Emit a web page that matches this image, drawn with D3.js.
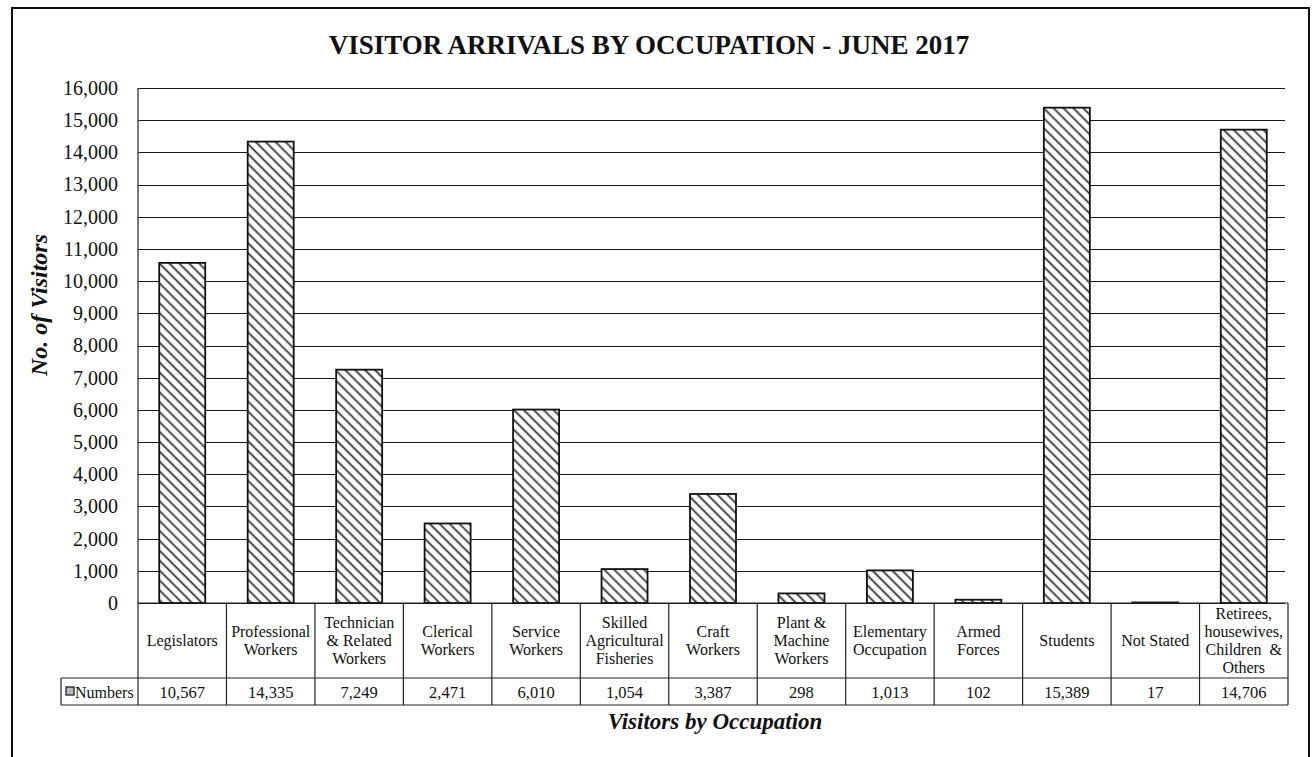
<!DOCTYPE html>
<html>
<head>
<meta charset="utf-8">
<script src="https://cdn.jsdelivr.net/npm/d3@7"></script>
<style>
  body { margin: 0; background: #fff; }
  svg text { font-family: "Liberation Serif", "Times New Roman", serif; fill: #111; }
</style>
</head>
<body>
<svg id="chart" width="1312" height="757"></svg>
<script>
// Dados do grafico
var categories = [
  ["Legislators"],
  ["Professional", "Workers"],
  ["Technician", "& Related", "Workers"],
  ["Clerical", "Workers"],
  ["Service", "Workers"],
  ["Skilled", "Agricultural", "Fisheries"],
  ["Craft", "Workers"],
  ["Plant &", "Machine", "Workers"],
  ["Elementary", "Occupation"],
  ["Armed", "Forces"],
  ["Students"],
  ["Not Stated"],
  ["Retirees,", "housewives,", "Children  &", "Others"]
];
var values = [10567, 14335, 7249, 2471, 6010, 1054, 3387, 298, 1013, 102, 15389, 17, 14706];
var yTicks = [0, 1000, 2000, 3000, 4000, 5000, 6000, 7000, 8000, 9000, 10000,
  11000, 12000, 13000, 14000, 15000, 16000];
var seriesName = "Numbers";
var title = "VISITOR ARRIVALS BY OCCUPATION - JUNE 2017";
var yTitle = "No. of Visitors";
var xTitle = "Visitors by Occupation";

var svg = d3.select("#chart");

// Area do grafico
var plotLeft = 138, plotRight = 1288, plotTop = 88, plotBottom = 603;
var rowLabel = 678, rowValue = 705, legendLeft = 61;

var x = d3.scaleBand()
  .domain(d3.range(categories.length))
  .range([plotLeft, plotRight])
  .paddingInner(0.48)
  .paddingOuter(0.24);

var y = d3.scaleLinear()
  .domain([0, 16000])
  .range([plotBottom, plotTop]);

// Padrao de hachura
var defs = svg.append("defs");
defs.append("pattern")
  .attr("id", "hatch")
  .attr("patternUnits", "userSpaceOnUse")
  .attr("width", 7)
  .attr("height", 7)
  .attr("patternTransform", "rotate(45)")
  .call(function (p) {
    p.append("rect").attr("width", 7).attr("height", 7).attr("fill", "#fff");
    p.append("line")
      .attr("x1", 0).attr("x2", 7).attr("y1", 3.5).attr("y2", 3.5)
      .attr("stroke", "#2a2a2a").attr("stroke-width", 1.7);
  });

// Moldura externa
svg.append("rect")
  .attr("x", 12).attr("y", 8)
  .attr("width", 1297).attr("height", 770)
  .attr("fill", "none")
  .attr("stroke", "#111")
  .attr("stroke-width", 2);

// Titulo
svg.append("text")
  .attr("x", 649).attr("y", 54)
  .attr("text-anchor", "middle")
  .attr("font-size", 27)
  .attr("font-weight", "bold")
  .text(title);

// Linhas de grade
svg.append("g")
  .selectAll("line")
  .data(yTicks)
  .enter().append("line")
  .attr("x1", plotLeft).attr("x2", plotRight - 3)
  .attr("y1", function (d) { return Math.round(y(d)) + 0.5; })
  .attr("y2", function (d) { return Math.round(y(d)) + 0.5; })
  .attr("stroke", "#1a1a1a")
  .attr("stroke-width", 1.2);

// Eixo Y
var yAxis = svg.append("g")
  .attr("transform", "translate(" + plotLeft + ",0)")
  .call(d3.axisLeft(y).tickValues(yTicks).tickFormat(d3.format(",")).tickSize(0).tickPadding(20));
yAxis.select(".domain").remove();
yAxis.selectAll("text")
  .attr("font-size", 20)
  .attr("fill", "#111")
  .style("font-family", "'Liberation Serif', 'Times New Roman', serif");

svg.append("text")
  .attr("transform", "translate(47,305) rotate(-90)")
  .attr("text-anchor", "middle")
  .attr("font-size", 24)
  .attr("font-weight", "bold")
  .attr("font-style", "italic")
  .text(yTitle);

// Barras
svg.append("g")
  .selectAll("rect")
  .data(values)
  .enter().append("rect")
  .attr("x", function (d, i) { return x(i); })
  .attr("y", function (d) { return y(d); })
  .attr("width", x.bandwidth())
  .attr("height", function (d) { return plotBottom - y(d); })
  .attr("fill", "url(#hatch)")
  .attr("stroke", "#111")
  .attr("stroke-width", 1.8);

// Tabela de dados
var step = x.step();
var table = svg.append("g")
  .attr("stroke", "#222")
  .attr("stroke-width", 1.2)
  .attr("fill", "none");

table.append("line")
  .attr("x1", plotLeft).attr("x2", plotLeft).attr("y1", plotTop).attr("y2", rowValue);
table.append("line")
  .attr("x1", plotLeft).attr("x2", plotRight).attr("y1", plotBottom).attr("y2", plotBottom);
table.append("line")
  .attr("x1", legendLeft).attr("x2", plotRight).attr("y1", rowLabel).attr("y2", rowLabel);
table.append("line")
  .attr("x1", legendLeft).attr("x2", plotRight).attr("y1", rowValue).attr("y2", rowValue);
table.append("line")
  .attr("x1", legendLeft).attr("x2", legendLeft).attr("y1", rowLabel).attr("y2", rowValue);
table.selectAll("line.col")
  .data(categories)
  .enter().append("line")
  .attr("class", "col")
  .attr("x1", function (d, i) { return x(i) - step * 0.24 + step; })
  .attr("x2", function (d, i) { return x(i) - step * 0.24 + step; })
  .attr("y1", plotBottom).attr("y2", rowValue);

// Rotulos das categorias
var lineH = 18.3;
svg.append("g")
  .selectAll("text")
  .data(categories)
  .enter().append("text")
  .attr("text-anchor", "middle")
  .attr("font-size", 16)
  .each(function (d, i) {
    var cx = x(i) + x.bandwidth() / 2;
    var y0 = (plotBottom + rowLabel) / 2 - (d.length - 1) * lineH / 2 + 5.5;
    d3.select(this).selectAll("tspan")
      .data(d)
      .enter().append("tspan")
      .attr("x", cx)
      .attr("y", function (t, k) { return y0 + k * lineH; })
      .attr("xml:space", "preserve")
      .text(function (t) { return t; });
  });

// Valores
svg.append("g")
  .selectAll("text")
  .data(values)
  .enter().append("text")
  .attr("x", function (d, i) { return x(i) + x.bandwidth() / 2; })
  .attr("y", (rowLabel + rowValue) / 2 + 6)
  .attr("text-anchor", "middle")
  .attr("font-size", 16.5)
  .text(d3.format(","));

// Legenda
svg.append("rect")
  .attr("x", 66).attr("y", 687)
  .attr("width", 8).attr("height", 8)
  .attr("fill", "#bbb")
  .attr("stroke", "#111")
  .attr("stroke-width", 1.2);
svg.append("text")
  .attr("x", 75).attr("y", (rowLabel + rowValue) / 2 + 6)
  .attr("font-size", 16)
  .text(seriesName);

// Titulo do eixo X
svg.append("text")
  .attr("x", 715).attr("y", 729)
  .attr("text-anchor", "middle")
  .attr("font-size", 23)
  .attr("font-weight", "bold")
  .attr("font-style", "italic")
  .text(xTitle);
</script>
</body>
</html>
